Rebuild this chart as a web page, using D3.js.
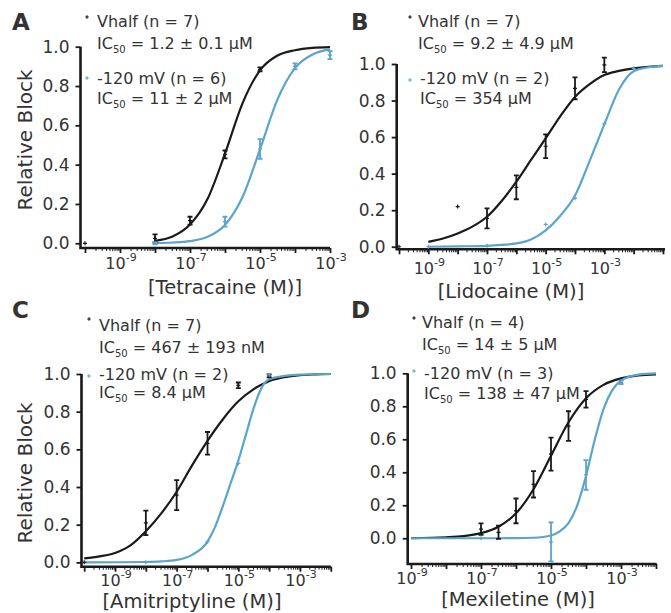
<!DOCTYPE html>
<html>
<head>
<meta charset="utf-8">
<script src="https://cdn.jsdelivr.net/npm/d3@7.9.0/dist/d3.min.js"></script>
<style>
  body { margin: 0; background: #fff; }
  svg { display: block; }
  text { font-family: 'DejaVu Sans', sans-serif; fill: #333; }
</style>
</head>
<body>
<svg id="chart" width="671" height="613"></svg>
<script>
// Data: [log10 concentration, mean block, error]
const tetraVhalf = [[-10, 0, 0], [-8, 0.025, 0.02], [-7, 0.115, 0.02], [-6, 0.452, 0.02], [-5, 0.885, 0.01]];
const tetraHyper = [[-8, 0.0, 0.005], [-6, 0.11, 0.025], [-5, 0.48, 0.05], [-4, 0.9, 0.015], [-3, 0.957, 0.02]];
const lidoVhalf = [[-10, 0, 0], [-8, 0.22, 0], [-7, 0.155, 0.055], [-6, 0.325, 0.065], [-5, 0.55, 0.065], [-4, 0.867, 0.06], [-3, 0.995, 0.04]];
const lidoHyper = [[-9, 0, 0], [-7, 0.005, 0], [-5, 0.122, 0], [-4, 0.265, 0], [-3, 0.672, 0], [-2, 0.976, 0]];
const amiVhalf = [[-10, 0, 0], [-8, 0.21, 0.065], [-7, 0.357, 0.08], [-6, 0.632, 0.06], [-5, 0.94, 0.015], [-4, 0.99, 0.008]];
const amiHyper = [[-8, 0, 0], [-6, 0.11, 0], [-5, 0.526, 0], [-4, 0.995, 0]];
const mexVhalf = [[-7, 0.055, 0.035], [-6.5, 0.036, 0.04], [-6, 0.166, 0.075], [-5.5, 0.327, 0.08], [-5, 0.51, 0.1], [-4.5, 0.68, 0.09], [-4, 0.842, 0.05]];
const mexHyper = [[-7, 0, 0], [-5, -0.022, 0.118], [-4, 0.384, 0.09], [-3, 0.945, 0.01]];

// Fitted curves: [log10 concentration, block]
const tetraVhalfFit = [[-8, 0.012], [-7.5, 0.034], [-7, 0.095], [-6.5, 0.225], [-6, 0.456], [-5.5, 0.712], [-5, 0.88], [-4.5, 0.955], [-4, 0.982], [-3.5, 0.994], [-3, 0.998]];
const tetraHyperFit = [[-8, 0.001], [-7.5, 0.004], [-7, 0.011], [-6.5, 0.033], [-6, 0.093], [-5.5, 0.235], [-5, 0.478], [-4.5, 0.732], [-4, 0.891], [-3.5, 0.96], [-3, 0.986]];
const lidoVhalfFit = [[-9, 0.027], [-8.5, 0.045], [-8, 0.073], [-7.5, 0.11], [-7, 0.164], [-6.5, 0.25], [-6, 0.356], [-5.5, 0.475], [-5, 0.593], [-4.5, 0.715], [-4, 0.82], [-3.5, 0.89], [-3, 0.94], [-2.5, 0.962], [-2, 0.976], [-1.5, 0.985], [-1, 0.99]];
const lidoHyperFit = [[-9, 0.0], [-8, 0.002], [-7, 0.005], [-6.5, 0.01], [-6, 0.018], [-5.5, 0.04], [-5, 0.09], [-4.5, 0.17], [-4, 0.28], [-3.5, 0.47], [-3, 0.67], [-2.5, 0.86], [-2, 0.96], [-1.5, 0.982], [-1, 0.99]];
const amiVhalfFit = [[-10, 0.021], [-9.5, 0.032], [-9, 0.05], [-8.5, 0.09], [-8, 0.165], [-7.5, 0.26], [-7, 0.375], [-6.5, 0.515], [-6, 0.645], [-5.5, 0.76], [-5, 0.855], [-4.5, 0.92], [-4, 0.962], [-3.5, 0.983], [-3, 0.994], [-2.5, 0.998], [-2, 1.0]];
const amiHyperFit = [[-10, 0], [-9, 0.0005], [-8, 0.002], [-7.5, 0.005], [-7, 0.013], [-6.5, 0.04], [-6, 0.11], [-5.75, 0.19], [-5.5, 0.3], [-5.25, 0.42], [-5, 0.54], [-4.75, 0.68], [-4.5, 0.82], [-4.25, 0.925], [-4, 0.972], [-3.5, 0.99], [-3, 0.997], [-2, 1.0]];
const mexVhalfFit = [[-9, 0.001], [-8, 0.006], [-7.5, 0.013], [-7, 0.031], [-6.5, 0.07], [-6, 0.151], [-5.5, 0.297], [-5, 0.5], [-4.5, 0.703], [-4, 0.849], [-3.5, 0.93], [-3, 0.969], [-2.5, 0.987], [-2, 0.994]];
const mexHyperFit = [[-9, 0], [-7, 0], [-6, 0.0005], [-5.5, 0.003], [-5, 0.017], [-4.75, 0.042], [-4.5, 0.092], [-4.25, 0.199], [-4, 0.377], [-3.75, 0.597], [-3.5, 0.783], [-3.25, 0.898], [-3, 0.956], [-2.5, 0.992], [-2, 0.999]];

const yTicks = [0, 0.2, 0.4, 0.6, 0.8, 1.0];
const xLabelExps = [-9, -7, -5, -3];

const drugs = ['Tetracaine', 'Lidocaine', 'Amitriptyline', 'Mexiletine'];
const vhalfLabels = ['Vhalf (n = 7)', 'Vhalf (n = 7)', 'Vhalf (n = 7)', 'Vhalf (n = 4)'];
const vhalfIC50 = [' = 1.2 ± 0.1 µM', ' = 9.2 ± 4.9 µM', ' = 467 ± 193 nM', ' = 14 ± 5 µM'];
const hyperLabels = ['-120 mV (n = 6)', '-120 mV (n = 2)', '-120 mV (n = 2)', '-120 mV (n = 3)'];
const hyperIC50 = [' = 11 ± 2 µM', ' = 354 µM', ' = 8.4 µM', ' = 138 ± 47 µM'];

const BLACK = '#1a1a1a';
const BLUE = '#5ba4cb';

const svg = d3.select('#chart');

// layout of each panel
const panels = [
  { letter: 'A', lx: 12, ly: 30, xDomain: [1e-10, 1e-3], xRange: [85, 330], yDomain: [-0.024, 1], yRange: [248, 46.7], axisX: 80.5, axisEnd: 330,
    tickBase: 269, titleX: 225, titleY: 294, yTitle: [32, 140],
    leg: { bx: 87, by: 17, tx: 97, b1: 27, b2: 49, hx: 87, hy: 78, htx: 97, b3: 84, b4: 104 },
    vhalf: tetraVhalf, hyper: tetraHyper, vFit: tetraVhalfFit, hFit: tetraHyperFit },
  { letter: 'B', lx: 351, ly: 30, xDomain: [1e-10, 1e-1], xRange: [399, 663], yDomain: [-0.014, 1], yRange: [249.3, 64], axisX: 396.7, axisEnd: 665,
    tickBase: 274, titleX: 511, titleY: 298, yTitle: null,
    leg: { bx: 410, by: 17, tx: 418, b1: 27, b2: 49, hx: 410, hy: 80, htx: 420, b3: 84, b4: 104 },
    vhalf: lidoVhalf, hyper: lidoHyper, vFit: lidoVhalfFit, hFit: lidoHyperFit },
  { letter: 'C', lx: 12, ly: 318, xDomain: [1e-10, 1e-2], xRange: [84.2, 330.8], yDomain: [-0.023, 1], yRange: [566.7, 374], axisX: 81.5, axisEnd: 330.8,
    tickBase: 586, titleX: 192, titleY: 608, yTitle: [32, 473],
    leg: { bx: 89, by: 319, tx: 99, b1: 331, b2: 353, hx: 89, hy: 376, htx: 99, b3: 380, b4: 398 },
    vhalf: amiVhalf, hyper: amiHyper, vFit: amiVhalfFit, hFit: amiHyperFit },
  { letter: 'D', lx: 351, ly: 318, xDomain: [1e-9, 1e-2], xRange: [411, 656], yDomain: [-0.156, 1], yRange: [564, 373.3], axisX: 407.7, axisEnd: 656.7,
    tickBase: 584, titleX: 518, titleY: 606, yTitle: null,
    leg: { bx: 414, by: 318, tx: 422, b1: 328, b2: 350, hx: 414, hy: 371, htx: 424, b3: 379, b4: 399 },
    vhalf: mexVhalf, hyper: mexHyper, vFit: mexVhalfFit, hFit: mexHyperFit },
];

function plus(g, cx, cy, color, s = 2) {
  g.append('path')
    .attr('d', `M${cx - s},${cy}H${cx + s}M${cx},${cy - s}V${cy + s}`)
    .attr('stroke', color).attr('stroke-width', 1.2).attr('fill', 'none');
}

function ic50Text(g, x, y, rest) {
  const t = g.append('text').attr('x', x).attr('y', y).attr('font-size', 16);
  t.append('tspan').text('IC');
  t.append('tspan').attr('font-size', 10).attr('dy', 4).text('50');
  t.append('tspan').attr('dy', -4).text(rest);
}

panels.forEach((p, i) => {
  const g = svg.append('g');
  const x = d3.scaleLog().domain(p.xDomain).range(p.xRange);
  const y = d3.scaleLinear().domain(p.yDomain).range(p.yRange);
  const lx = (d) => x(Math.pow(10, d[0]));

  // y axis
  const yAxis = d3.axisLeft(y).tickValues(yTicks).tickFormat(d3.format('.1f')).tickSize(5).tickSizeOuter(0).tickPadding(6);
  const ya = g.append('g').attr('transform', `translate(${p.axisX},0)`).call(yAxis);
  ya.select('.domain').remove();
  ya.selectAll('.tick line').attr('stroke', BLACK).attr('stroke-width', 1.8);
  ya.selectAll('.tick text').attr('font-size', 17).attr('fill', '#333').attr('font-family', 'DejaVu Sans');

  // x axis: major ticks every decade, minor 2..9
  const lo = Math.round(Math.log10(p.xDomain[0]));
  const hi = Math.round(Math.log10(p.xDomain[1]));
  const majors = d3.range(lo, hi + 1).map((k) => Math.pow(10, k));
  const minors = [];
  d3.range(lo, hi).forEach((k) => d3.range(2, 10).forEach((m) => minors.push(m * Math.pow(10, k))));
  const xBase = p.yRange[0];
  const xa = g.append('g').attr('transform', `translate(0,${xBase})`)
    .call(d3.axisBottom(x).tickValues(majors).tickFormat('').tickSize(5).tickSizeOuter(0));
  xa.select('.domain').remove();
  xa.selectAll('.tick line').attr('stroke', BLACK).attr('stroke-width', 1.8);
  const xm = g.append('g').attr('transform', `translate(0,${xBase})`)
    .call(d3.axisBottom(x).tickValues(minors).tickFormat('').tickSize(3).tickSizeOuter(0));
  xm.select('.domain').remove();
  xm.selectAll('.tick line').attr('stroke', BLACK).attr('stroke-width', 1);

  // axis lines
  g.append('path')
    .attr('d', `M${p.axisX},${y(1)}V${xBase}H${p.axisEnd}`)
    .attr('fill', 'none').attr('stroke', BLACK).attr('stroke-width', 2.6);

  // x tick labels
  xLabelExps.forEach((e) => {
    const t = g.append('text').attr('x', x(Math.pow(10, e)) + 1).attr('y', p.tickBase)
      .attr('text-anchor', 'middle').attr('font-size', 16);
    t.append('tspan').text('10');
    t.append('tspan').attr('font-size', 11).attr('dy', -8).text(String(e));
  });

  // axis titles
  g.append('text').attr('x', p.titleX).attr('y', p.titleY).attr('text-anchor', 'middle')
    .attr('font-size', 19.5).text(`[${drugs[i]} (M)]`);
  if (p.yTitle) {
    g.append('text').attr('transform', `translate(${p.yTitle[0]},${p.yTitle[1]}) rotate(-90)`)
      .attr('text-anchor', 'middle').attr('font-size', 20).text('Relative Block');
  }

  // panel letter
  g.append('text').attr('x', p.lx).attr('y', p.ly).attr('font-size', 23).attr('font-weight', 'bold')
    .attr('fill', '#111').text(p.letter);

  // fitted curves
  const line = d3.line().x(lx).y((d) => y(d[1])).curve(d3.curveMonotoneX);
  g.append('path').datum(p.vFit).attr('d', line).attr('fill', 'none').attr('stroke', BLACK).attr('stroke-width', 2.2);
  g.append('path').datum(p.hFit).attr('d', line).attr('fill', 'none').attr('stroke', BLUE).attr('stroke-width', 2.2);

  // data points with error bars
  [[p.vhalf, BLACK], [p.hyper, BLUE]].forEach(([data, color]) => {
    data.forEach((d) => {
      const cx = lx(d);
      if (d[2] > 0) {
        const y0 = y(d[1] - d[2]);
        const y1 = y(d[1] + d[2]);
        g.append('path')
          .attr('d', `M${cx},${y0}V${y1}M${cx - 2.5},${y0}H${cx + 2.5}M${cx - 2.5},${y1}H${cx + 2.5}`)
          .attr('stroke', color).attr('stroke-width', 1.8).attr('fill', 'none');
      }
      plus(g, cx, y(d[1]), color);
    });
  });

  // legend
  const L = p.leg;
  plus(g, L.bx, L.by, BLACK, 1.8);
  g.append('text').attr('x', L.tx).attr('y', L.b1).attr('font-size', 16).text(vhalfLabels[i]);
  ic50Text(g, L.tx, L.b2, vhalfIC50[i]);
  plus(g, L.hx, L.hy, BLUE, 1.8);
  g.append('text').attr('x', L.htx).attr('y', L.b3).attr('font-size', 16).text(hyperLabels[i]);
  ic50Text(g, L.htx, L.b4, hyperIC50[i]);
});
</script>
</body>
</html>
